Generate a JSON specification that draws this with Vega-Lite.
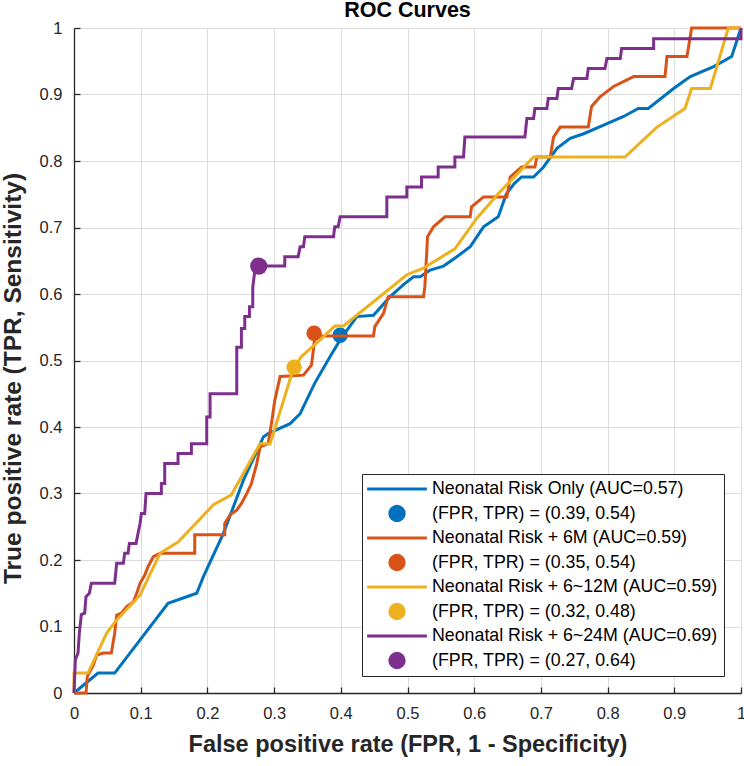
{
  "$schema": "https://vega.github.io/schema/vega-lite/v6.json",
  "width": 667,
  "height": 665,
  "autosize": {"type": "none"},
  "padding": {"left": 74, "top": 28, "right": 3, "bottom": 73},
  "background": "white",
  "title": {"text": "ROC Curves", "fontSize": 21.5, "font": "Liberation Sans", "fontWeight": "bold", "color": "#000000", "offset": -1, "anchor": "middle"},
  "config": {
    "view": {"stroke": null},
    "axis": {
      "labelFont": "Liberation Sans", "labelFontSize": 16.5, "labelColor": "#262626",
      "titleFont": "Liberation Sans", "titleFontWeight": "bold", "titleColor": "#262626",
      "gridColor": "#dcdcdc", "gridWidth": 1, "gridOpacity": 1,
      "domainColor": "#262626", "domainWidth": 1.3,
      "ticks": true, "tickSize": -6, "tickColor": "#262626", "tickWidth": 1.3
    },
    "legend": {
      "orient": "bottom-right", "offset": 17,
      "strokeColor": "#262626", "fillColor": "white", "padding": 6, "cornerRadius": 0,
      "labelFont": "Liberation Sans", "labelFontSize": 17.8, "labelColor": "#000000", "labelLimit": 500,
      "symbolSize": 300, "symbolStrokeWidth": 0, "rowPadding": 6.5,
      "symbolOffset": 20, "labelOffset": 26
    }
  },
  "datasets": {
    "lines": [
      {"s": "Neonatal Risk Only (AUC=0.57)", "i": 0, "fpr": 0, "tpr": 0},
      {"s": "Neonatal Risk Only (AUC=0.57)", "i": 1, "fpr": 0.036, "tpr": 0.03},
      {"s": "Neonatal Risk Only (AUC=0.57)", "i": 2, "fpr": 0.061, "tpr": 0.03},
      {"s": "Neonatal Risk Only (AUC=0.57)", "i": 3, "fpr": 0.141, "tpr": 0.135},
      {"s": "Neonatal Risk Only (AUC=0.57)", "i": 4, "fpr": 0.184, "tpr": 0.15},
      {"s": "Neonatal Risk Only (AUC=0.57)", "i": 5, "fpr": 0.194, "tpr": 0.175},
      {"s": "Neonatal Risk Only (AUC=0.57)", "i": 6, "fpr": 0.224, "tpr": 0.24},
      {"s": "Neonatal Risk Only (AUC=0.57)", "i": 7, "fpr": 0.254, "tpr": 0.32},
      {"s": "Neonatal Risk Only (AUC=0.57)", "i": 8, "fpr": 0.284, "tpr": 0.385},
      {"s": "Neonatal Risk Only (AUC=0.57)", "i": 9, "fpr": 0.291, "tpr": 0.39},
      {"s": "Neonatal Risk Only (AUC=0.57)", "i": 10, "fpr": 0.324, "tpr": 0.405},
      {"s": "Neonatal Risk Only (AUC=0.57)", "i": 11, "fpr": 0.339, "tpr": 0.42},
      {"s": "Neonatal Risk Only (AUC=0.57)", "i": 12, "fpr": 0.361, "tpr": 0.466},
      {"s": "Neonatal Risk Only (AUC=0.57)", "i": 13, "fpr": 0.384, "tpr": 0.506},
      {"s": "Neonatal Risk Only (AUC=0.57)", "i": 14, "fpr": 0.399, "tpr": 0.531},
      {"s": "Neonatal Risk Only (AUC=0.57)", "i": 15, "fpr": 0.411, "tpr": 0.548},
      {"s": "Neonatal Risk Only (AUC=0.57)", "i": 16, "fpr": 0.424, "tpr": 0.566},
      {"s": "Neonatal Risk Only (AUC=0.57)", "i": 17, "fpr": 0.449, "tpr": 0.568},
      {"s": "Neonatal Risk Only (AUC=0.57)", "i": 18, "fpr": 0.474, "tpr": 0.596},
      {"s": "Neonatal Risk Only (AUC=0.57)", "i": 19, "fpr": 0.494, "tpr": 0.614},
      {"s": "Neonatal Risk Only (AUC=0.57)", "i": 20, "fpr": 0.509, "tpr": 0.626},
      {"s": "Neonatal Risk Only (AUC=0.57)", "i": 21, "fpr": 0.519, "tpr": 0.626},
      {"s": "Neonatal Risk Only (AUC=0.57)", "i": 22, "fpr": 0.534, "tpr": 0.636},
      {"s": "Neonatal Risk Only (AUC=0.57)", "i": 23, "fpr": 0.554, "tpr": 0.642},
      {"s": "Neonatal Risk Only (AUC=0.57)", "i": 24, "fpr": 0.574, "tpr": 0.656},
      {"s": "Neonatal Risk Only (AUC=0.57)", "i": 25, "fpr": 0.594, "tpr": 0.671},
      {"s": "Neonatal Risk Only (AUC=0.57)", "i": 26, "fpr": 0.614, "tpr": 0.701},
      {"s": "Neonatal Risk Only (AUC=0.57)", "i": 27, "fpr": 0.636, "tpr": 0.716},
      {"s": "Neonatal Risk Only (AUC=0.57)", "i": 28, "fpr": 0.648, "tpr": 0.75},
      {"s": "Neonatal Risk Only (AUC=0.57)", "i": 29, "fpr": 0.66, "tpr": 0.766},
      {"s": "Neonatal Risk Only (AUC=0.57)", "i": 30, "fpr": 0.671, "tpr": 0.776},
      {"s": "Neonatal Risk Only (AUC=0.57)", "i": 31, "fpr": 0.689, "tpr": 0.776},
      {"s": "Neonatal Risk Only (AUC=0.57)", "i": 32, "fpr": 0.704, "tpr": 0.791},
      {"s": "Neonatal Risk Only (AUC=0.57)", "i": 33, "fpr": 0.724, "tpr": 0.819},
      {"s": "Neonatal Risk Only (AUC=0.57)", "i": 34, "fpr": 0.744, "tpr": 0.834},
      {"s": "Neonatal Risk Only (AUC=0.57)", "i": 35, "fpr": 0.764, "tpr": 0.841},
      {"s": "Neonatal Risk Only (AUC=0.57)", "i": 36, "fpr": 0.794, "tpr": 0.854},
      {"s": "Neonatal Risk Only (AUC=0.57)", "i": 37, "fpr": 0.824, "tpr": 0.867},
      {"s": "Neonatal Risk Only (AUC=0.57)", "i": 38, "fpr": 0.846, "tpr": 0.879},
      {"s": "Neonatal Risk Only (AUC=0.57)", "i": 39, "fpr": 0.861, "tpr": 0.879},
      {"s": "Neonatal Risk Only (AUC=0.57)", "i": 40, "fpr": 0.899, "tpr": 0.909},
      {"s": "Neonatal Risk Only (AUC=0.57)", "i": 41, "fpr": 0.924, "tpr": 0.927},
      {"s": "Neonatal Risk Only (AUC=0.57)", "i": 42, "fpr": 0.959, "tpr": 0.942},
      {"s": "Neonatal Risk Only (AUC=0.57)", "i": 43, "fpr": 0.986, "tpr": 0.957},
      {"s": "Neonatal Risk Only (AUC=0.57)", "i": 44, "fpr": 1, "tpr": 1},

      {"s": "Neonatal Risk + 6M (AUC=0.59)", "i": 0, "fpr": 0, "tpr": 0},
      {"s": "Neonatal Risk + 6M (AUC=0.59)", "i": 1, "fpr": 0.018, "tpr": 0},
      {"s": "Neonatal Risk + 6M (AUC=0.59)", "i": 2, "fpr": 0.02, "tpr": 0.025},
      {"s": "Neonatal Risk + 6M (AUC=0.59)", "i": 3, "fpr": 0.029, "tpr": 0.042},
      {"s": "Neonatal Risk + 6M (AUC=0.59)", "i": 4, "fpr": 0.034, "tpr": 0.057},
      {"s": "Neonatal Risk + 6M (AUC=0.59)", "i": 5, "fpr": 0.044, "tpr": 0.06},
      {"s": "Neonatal Risk + 6M (AUC=0.59)", "i": 6, "fpr": 0.056, "tpr": 0.06},
      {"s": "Neonatal Risk + 6M (AUC=0.59)", "i": 7, "fpr": 0.061, "tpr": 0.09},
      {"s": "Neonatal Risk + 6M (AUC=0.59)", "i": 8, "fpr": 0.064, "tpr": 0.117},
      {"s": "Neonatal Risk + 6M (AUC=0.59)", "i": 9, "fpr": 0.071, "tpr": 0.12},
      {"s": "Neonatal Risk + 6M (AUC=0.59)", "i": 10, "fpr": 0.079, "tpr": 0.13},
      {"s": "Neonatal Risk + 6M (AUC=0.59)", "i": 11, "fpr": 0.089, "tpr": 0.137},
      {"s": "Neonatal Risk + 6M (AUC=0.59)", "i": 12, "fpr": 0.094, "tpr": 0.15},
      {"s": "Neonatal Risk + 6M (AUC=0.59)", "i": 13, "fpr": 0.099, "tpr": 0.165},
      {"s": "Neonatal Risk + 6M (AUC=0.59)", "i": 14, "fpr": 0.106, "tpr": 0.177},
      {"s": "Neonatal Risk + 6M (AUC=0.59)", "i": 15, "fpr": 0.111, "tpr": 0.19},
      {"s": "Neonatal Risk + 6M (AUC=0.59)", "i": 16, "fpr": 0.119, "tpr": 0.205},
      {"s": "Neonatal Risk + 6M (AUC=0.59)", "i": 17, "fpr": 0.129, "tpr": 0.21},
      {"s": "Neonatal Risk + 6M (AUC=0.59)", "i": 18, "fpr": 0.181, "tpr": 0.21},
      {"s": "Neonatal Risk + 6M (AUC=0.59)", "i": 19, "fpr": 0.181, "tpr": 0.238},
      {"s": "Neonatal Risk + 6M (AUC=0.59)", "i": 20, "fpr": 0.226, "tpr": 0.238},
      {"s": "Neonatal Risk + 6M (AUC=0.59)", "i": 21, "fpr": 0.226, "tpr": 0.255},
      {"s": "Neonatal Risk + 6M (AUC=0.59)", "i": 22, "fpr": 0.234, "tpr": 0.268},
      {"s": "Neonatal Risk + 6M (AUC=0.59)", "i": 23, "fpr": 0.244, "tpr": 0.275},
      {"s": "Neonatal Risk + 6M (AUC=0.59)", "i": 24, "fpr": 0.251, "tpr": 0.285},
      {"s": "Neonatal Risk + 6M (AUC=0.59)", "i": 25, "fpr": 0.259, "tpr": 0.3},
      {"s": "Neonatal Risk + 6M (AUC=0.59)", "i": 26, "fpr": 0.266, "tpr": 0.315},
      {"s": "Neonatal Risk + 6M (AUC=0.59)", "i": 27, "fpr": 0.274, "tpr": 0.345},
      {"s": "Neonatal Risk + 6M (AUC=0.59)", "i": 28, "fpr": 0.279, "tpr": 0.37},
      {"s": "Neonatal Risk + 6M (AUC=0.59)", "i": 29, "fpr": 0.291, "tpr": 0.375},
      {"s": "Neonatal Risk + 6M (AUC=0.59)", "i": 30, "fpr": 0.296, "tpr": 0.405},
      {"s": "Neonatal Risk + 6M (AUC=0.59)", "i": 31, "fpr": 0.301, "tpr": 0.44},
      {"s": "Neonatal Risk + 6M (AUC=0.59)", "i": 32, "fpr": 0.309, "tpr": 0.476},
      {"s": "Neonatal Risk + 6M (AUC=0.59)", "i": 33, "fpr": 0.344, "tpr": 0.478},
      {"s": "Neonatal Risk + 6M (AUC=0.59)", "i": 34, "fpr": 0.356, "tpr": 0.493},
      {"s": "Neonatal Risk + 6M (AUC=0.59)", "i": 35, "fpr": 0.359, "tpr": 0.516},
      {"s": "Neonatal Risk + 6M (AUC=0.59)", "i": 36, "fpr": 0.361, "tpr": 0.537},
      {"s": "Neonatal Risk + 6M (AUC=0.59)", "i": 37, "fpr": 0.449, "tpr": 0.537},
      {"s": "Neonatal Risk + 6M (AUC=0.59)", "i": 38, "fpr": 0.451, "tpr": 0.551},
      {"s": "Neonatal Risk + 6M (AUC=0.59)", "i": 39, "fpr": 0.464, "tpr": 0.571},
      {"s": "Neonatal Risk + 6M (AUC=0.59)", "i": 40, "fpr": 0.471, "tpr": 0.596},
      {"s": "Neonatal Risk + 6M (AUC=0.59)", "i": 41, "fpr": 0.524, "tpr": 0.596},
      {"s": "Neonatal Risk + 6M (AUC=0.59)", "i": 42, "fpr": 0.526, "tpr": 0.611},
      {"s": "Neonatal Risk + 6M (AUC=0.59)", "i": 43, "fpr": 0.529, "tpr": 0.666},
      {"s": "Neonatal Risk + 6M (AUC=0.59)", "i": 44, "fpr": 0.53, "tpr": 0.686},
      {"s": "Neonatal Risk + 6M (AUC=0.59)", "i": 45, "fpr": 0.539, "tpr": 0.701},
      {"s": "Neonatal Risk + 6M (AUC=0.59)", "i": 46, "fpr": 0.556, "tpr": 0.716},
      {"s": "Neonatal Risk + 6M (AUC=0.59)", "i": 47, "fpr": 0.594, "tpr": 0.716},
      {"s": "Neonatal Risk + 6M (AUC=0.59)", "i": 48, "fpr": 0.596, "tpr": 0.731},
      {"s": "Neonatal Risk + 6M (AUC=0.59)", "i": 49, "fpr": 0.614, "tpr": 0.746},
      {"s": "Neonatal Risk + 6M (AUC=0.59)", "i": 50, "fpr": 0.649, "tpr": 0.746},
      {"s": "Neonatal Risk + 6M (AUC=0.59)", "i": 51, "fpr": 0.654, "tpr": 0.776},
      {"s": "Neonatal Risk + 6M (AUC=0.59)", "i": 52, "fpr": 0.671, "tpr": 0.791},
      {"s": "Neonatal Risk + 6M (AUC=0.59)", "i": 53, "fpr": 0.691, "tpr": 0.791},
      {"s": "Neonatal Risk + 6M (AUC=0.59)", "i": 54, "fpr": 0.694, "tpr": 0.806},
      {"s": "Neonatal Risk + 6M (AUC=0.59)", "i": 55, "fpr": 0.714, "tpr": 0.806},
      {"s": "Neonatal Risk + 6M (AUC=0.59)", "i": 56, "fpr": 0.719, "tpr": 0.836},
      {"s": "Neonatal Risk + 6M (AUC=0.59)", "i": 57, "fpr": 0.729, "tpr": 0.851},
      {"s": "Neonatal Risk + 6M (AUC=0.59)", "i": 58, "fpr": 0.771, "tpr": 0.851},
      {"s": "Neonatal Risk + 6M (AUC=0.59)", "i": 59, "fpr": 0.776, "tpr": 0.882},
      {"s": "Neonatal Risk + 6M (AUC=0.59)", "i": 60, "fpr": 0.789, "tpr": 0.897},
      {"s": "Neonatal Risk + 6M (AUC=0.59)", "i": 61, "fpr": 0.809, "tpr": 0.912},
      {"s": "Neonatal Risk + 6M (AUC=0.59)", "i": 62, "fpr": 0.839, "tpr": 0.927},
      {"s": "Neonatal Risk + 6M (AUC=0.59)", "i": 63, "fpr": 0.886, "tpr": 0.927},
      {"s": "Neonatal Risk + 6M (AUC=0.59)", "i": 64, "fpr": 0.889, "tpr": 0.957},
      {"s": "Neonatal Risk + 6M (AUC=0.59)", "i": 65, "fpr": 0.919, "tpr": 0.957},
      {"s": "Neonatal Risk + 6M (AUC=0.59)", "i": 66, "fpr": 0.926, "tpr": 1},
      {"s": "Neonatal Risk + 6M (AUC=0.59)", "i": 67, "fpr": 1, "tpr": 1},

      {"s": "Neonatal Risk + 6~12M (AUC=0.59)", "i": 0, "fpr": 0, "tpr": 0},
      {"s": "Neonatal Risk + 6~12M (AUC=0.59)", "i": 1, "fpr": 0, "tpr": 0.03},
      {"s": "Neonatal Risk + 6~12M (AUC=0.59)", "i": 2, "fpr": 0.021, "tpr": 0.03},
      {"s": "Neonatal Risk + 6~12M (AUC=0.59)", "i": 3, "fpr": 0.049, "tpr": 0.09},
      {"s": "Neonatal Risk + 6~12M (AUC=0.59)", "i": 4, "fpr": 0.064, "tpr": 0.11},
      {"s": "Neonatal Risk + 6~12M (AUC=0.59)", "i": 5, "fpr": 0.099, "tpr": 0.147},
      {"s": "Neonatal Risk + 6~12M (AUC=0.59)", "i": 6, "fpr": 0.129, "tpr": 0.21},
      {"s": "Neonatal Risk + 6~12M (AUC=0.59)", "i": 7, "fpr": 0.156, "tpr": 0.227},
      {"s": "Neonatal Risk + 6~12M (AUC=0.59)", "i": 8, "fpr": 0.209, "tpr": 0.283},
      {"s": "Neonatal Risk + 6~12M (AUC=0.59)", "i": 9, "fpr": 0.236, "tpr": 0.298},
      {"s": "Neonatal Risk + 6~12M (AUC=0.59)", "i": 10, "fpr": 0.279, "tpr": 0.375},
      {"s": "Neonatal Risk + 6~12M (AUC=0.59)", "i": 11, "fpr": 0.294, "tpr": 0.375},
      {"s": "Neonatal Risk + 6~12M (AUC=0.59)", "i": 12, "fpr": 0.329, "tpr": 0.488},
      {"s": "Neonatal Risk + 6~12M (AUC=0.59)", "i": 13, "fpr": 0.341, "tpr": 0.506},
      {"s": "Neonatal Risk + 6~12M (AUC=0.59)", "i": 14, "fpr": 0.369, "tpr": 0.531},
      {"s": "Neonatal Risk + 6~12M (AUC=0.59)", "i": 15, "fpr": 0.391, "tpr": 0.552},
      {"s": "Neonatal Risk + 6~12M (AUC=0.59)", "i": 16, "fpr": 0.404, "tpr": 0.552},
      {"s": "Neonatal Risk + 6~12M (AUC=0.59)", "i": 17, "fpr": 0.499, "tpr": 0.629},
      {"s": "Neonatal Risk + 6~12M (AUC=0.59)", "i": 18, "fpr": 0.524, "tpr": 0.639},
      {"s": "Neonatal Risk + 6~12M (AUC=0.59)", "i": 19, "fpr": 0.571, "tpr": 0.668},
      {"s": "Neonatal Risk + 6~12M (AUC=0.59)", "i": 20, "fpr": 0.604, "tpr": 0.714},
      {"s": "Neonatal Risk + 6~12M (AUC=0.59)", "i": 21, "fpr": 0.639, "tpr": 0.754},
      {"s": "Neonatal Risk + 6~12M (AUC=0.59)", "i": 22, "fpr": 0.689, "tpr": 0.806},
      {"s": "Neonatal Risk + 6~12M (AUC=0.59)", "i": 23, "fpr": 0.826, "tpr": 0.806},
      {"s": "Neonatal Risk + 6~12M (AUC=0.59)", "i": 24, "fpr": 0.874, "tpr": 0.851},
      {"s": "Neonatal Risk + 6~12M (AUC=0.59)", "i": 25, "fpr": 0.916, "tpr": 0.879},
      {"s": "Neonatal Risk + 6~12M (AUC=0.59)", "i": 26, "fpr": 0.926, "tpr": 0.909},
      {"s": "Neonatal Risk + 6~12M (AUC=0.59)", "i": 27, "fpr": 0.954, "tpr": 0.909},
      {"s": "Neonatal Risk + 6~12M (AUC=0.59)", "i": 28, "fpr": 0.981, "tpr": 1},
      {"s": "Neonatal Risk + 6~12M (AUC=0.59)", "i": 29, "fpr": 1, "tpr": 1},

      {"s": "Neonatal Risk + 6~24M (AUC=0.69)", "i": 0, "fpr": 0, "tpr": 0},
      {"s": "Neonatal Risk + 6~24M (AUC=0.69)", "i": 1, "fpr": 0.002, "tpr": 0.05},
      {"s": "Neonatal Risk + 6~24M (AUC=0.69)", "i": 2, "fpr": 0.006, "tpr": 0.06},
      {"s": "Neonatal Risk + 6~24M (AUC=0.69)", "i": 3, "fpr": 0.008, "tpr": 0.09},
      {"s": "Neonatal Risk + 6~24M (AUC=0.69)", "i": 4, "fpr": 0.011, "tpr": 0.118},
      {"s": "Neonatal Risk + 6~24M (AUC=0.69)", "i": 5, "fpr": 0.016, "tpr": 0.12},
      {"s": "Neonatal Risk + 6~24M (AUC=0.69)", "i": 6, "fpr": 0.018, "tpr": 0.145},
      {"s": "Neonatal Risk + 6~24M (AUC=0.69)", "i": 7, "fpr": 0.023, "tpr": 0.15},
      {"s": "Neonatal Risk + 6~24M (AUC=0.69)", "i": 8, "fpr": 0.026, "tpr": 0.165},
      {"s": "Neonatal Risk + 6~24M (AUC=0.69)", "i": 9, "fpr": 0.061, "tpr": 0.165},
      {"s": "Neonatal Risk + 6~24M (AUC=0.69)", "i": 10, "fpr": 0.064, "tpr": 0.195},
      {"s": "Neonatal Risk + 6~24M (AUC=0.69)", "i": 11, "fpr": 0.074, "tpr": 0.195},
      {"s": "Neonatal Risk + 6~24M (AUC=0.69)", "i": 12, "fpr": 0.076, "tpr": 0.21},
      {"s": "Neonatal Risk + 6~24M (AUC=0.69)", "i": 13, "fpr": 0.081, "tpr": 0.21},
      {"s": "Neonatal Risk + 6~24M (AUC=0.69)", "i": 14, "fpr": 0.083, "tpr": 0.225},
      {"s": "Neonatal Risk + 6~24M (AUC=0.69)", "i": 15, "fpr": 0.093, "tpr": 0.225},
      {"s": "Neonatal Risk + 6~24M (AUC=0.69)", "i": 16, "fpr": 0.096, "tpr": 0.24},
      {"s": "Neonatal Risk + 6~24M (AUC=0.69)", "i": 17, "fpr": 0.099, "tpr": 0.255},
      {"s": "Neonatal Risk + 6~24M (AUC=0.69)", "i": 18, "fpr": 0.101, "tpr": 0.27},
      {"s": "Neonatal Risk + 6~24M (AUC=0.69)", "i": 19, "fpr": 0.106, "tpr": 0.27},
      {"s": "Neonatal Risk + 6~24M (AUC=0.69)", "i": 20, "fpr": 0.108, "tpr": 0.3},
      {"s": "Neonatal Risk + 6~24M (AUC=0.69)", "i": 21, "fpr": 0.131, "tpr": 0.3},
      {"s": "Neonatal Risk + 6~24M (AUC=0.69)", "i": 22, "fpr": 0.131, "tpr": 0.315},
      {"s": "Neonatal Risk + 6~24M (AUC=0.69)", "i": 23, "fpr": 0.136, "tpr": 0.315},
      {"s": "Neonatal Risk + 6~24M (AUC=0.69)", "i": 24, "fpr": 0.136, "tpr": 0.345},
      {"s": "Neonatal Risk + 6~24M (AUC=0.69)", "i": 25, "fpr": 0.156, "tpr": 0.345},
      {"s": "Neonatal Risk + 6~24M (AUC=0.69)", "i": 26, "fpr": 0.156, "tpr": 0.36},
      {"s": "Neonatal Risk + 6~24M (AUC=0.69)", "i": 27, "fpr": 0.176, "tpr": 0.36},
      {"s": "Neonatal Risk + 6~24M (AUC=0.69)", "i": 28, "fpr": 0.176, "tpr": 0.375},
      {"s": "Neonatal Risk + 6~24M (AUC=0.69)", "i": 29, "fpr": 0.199, "tpr": 0.375},
      {"s": "Neonatal Risk + 6~24M (AUC=0.69)", "i": 30, "fpr": 0.199, "tpr": 0.415},
      {"s": "Neonatal Risk + 6~24M (AUC=0.69)", "i": 31, "fpr": 0.204, "tpr": 0.415},
      {"s": "Neonatal Risk + 6~24M (AUC=0.69)", "i": 32, "fpr": 0.204, "tpr": 0.45},
      {"s": "Neonatal Risk + 6~24M (AUC=0.69)", "i": 33, "fpr": 0.244, "tpr": 0.45},
      {"s": "Neonatal Risk + 6~24M (AUC=0.69)", "i": 34, "fpr": 0.244, "tpr": 0.52},
      {"s": "Neonatal Risk + 6~24M (AUC=0.69)", "i": 35, "fpr": 0.251, "tpr": 0.52},
      {"s": "Neonatal Risk + 6~24M (AUC=0.69)", "i": 36, "fpr": 0.251, "tpr": 0.548},
      {"s": "Neonatal Risk + 6~24M (AUC=0.69)", "i": 37, "fpr": 0.256, "tpr": 0.548},
      {"s": "Neonatal Risk + 6~24M (AUC=0.69)", "i": 38, "fpr": 0.256, "tpr": 0.566},
      {"s": "Neonatal Risk + 6~24M (AUC=0.69)", "i": 39, "fpr": 0.263, "tpr": 0.566},
      {"s": "Neonatal Risk + 6~24M (AUC=0.69)", "i": 40, "fpr": 0.263, "tpr": 0.581},
      {"s": "Neonatal Risk + 6~24M (AUC=0.69)", "i": 41, "fpr": 0.268, "tpr": 0.581},
      {"s": "Neonatal Risk + 6~24M (AUC=0.69)", "i": 42, "fpr": 0.268, "tpr": 0.61},
      {"s": "Neonatal Risk + 6~24M (AUC=0.69)", "i": 43, "fpr": 0.272, "tpr": 0.642},
      {"s": "Neonatal Risk + 6~24M (AUC=0.69)", "i": 44, "fpr": 0.316, "tpr": 0.642},
      {"s": "Neonatal Risk + 6~24M (AUC=0.69)", "i": 45, "fpr": 0.316, "tpr": 0.656},
      {"s": "Neonatal Risk + 6~24M (AUC=0.69)", "i": 46, "fpr": 0.336, "tpr": 0.656},
      {"s": "Neonatal Risk + 6~24M (AUC=0.69)", "i": 47, "fpr": 0.339, "tpr": 0.671},
      {"s": "Neonatal Risk + 6~24M (AUC=0.69)", "i": 48, "fpr": 0.344, "tpr": 0.671},
      {"s": "Neonatal Risk + 6~24M (AUC=0.69)", "i": 49, "fpr": 0.346, "tpr": 0.686},
      {"s": "Neonatal Risk + 6~24M (AUC=0.69)", "i": 50, "fpr": 0.389, "tpr": 0.686},
      {"s": "Neonatal Risk + 6~24M (AUC=0.69)", "i": 51, "fpr": 0.391, "tpr": 0.701},
      {"s": "Neonatal Risk + 6~24M (AUC=0.69)", "i": 52, "fpr": 0.396, "tpr": 0.701},
      {"s": "Neonatal Risk + 6~24M (AUC=0.69)", "i": 53, "fpr": 0.399, "tpr": 0.716},
      {"s": "Neonatal Risk + 6~24M (AUC=0.69)", "i": 54, "fpr": 0.469, "tpr": 0.716},
      {"s": "Neonatal Risk + 6~24M (AUC=0.69)", "i": 55, "fpr": 0.469, "tpr": 0.746},
      {"s": "Neonatal Risk + 6~24M (AUC=0.69)", "i": 56, "fpr": 0.499, "tpr": 0.746},
      {"s": "Neonatal Risk + 6~24M (AUC=0.69)", "i": 57, "fpr": 0.499, "tpr": 0.761},
      {"s": "Neonatal Risk + 6~24M (AUC=0.69)", "i": 58, "fpr": 0.521, "tpr": 0.761},
      {"s": "Neonatal Risk + 6~24M (AUC=0.69)", "i": 59, "fpr": 0.521, "tpr": 0.776},
      {"s": "Neonatal Risk + 6~24M (AUC=0.69)", "i": 60, "fpr": 0.546, "tpr": 0.776},
      {"s": "Neonatal Risk + 6~24M (AUC=0.69)", "i": 61, "fpr": 0.546, "tpr": 0.791},
      {"s": "Neonatal Risk + 6~24M (AUC=0.69)", "i": 62, "fpr": 0.571, "tpr": 0.791},
      {"s": "Neonatal Risk + 6~24M (AUC=0.69)", "i": 63, "fpr": 0.571, "tpr": 0.806},
      {"s": "Neonatal Risk + 6~24M (AUC=0.69)", "i": 64, "fpr": 0.584, "tpr": 0.806},
      {"s": "Neonatal Risk + 6~24M (AUC=0.69)", "i": 65, "fpr": 0.586, "tpr": 0.836},
      {"s": "Neonatal Risk + 6~24M (AUC=0.69)", "i": 66, "fpr": 0.676, "tpr": 0.836},
      {"s": "Neonatal Risk + 6~24M (AUC=0.69)", "i": 67, "fpr": 0.679, "tpr": 0.864},
      {"s": "Neonatal Risk + 6~24M (AUC=0.69)", "i": 68, "fpr": 0.689, "tpr": 0.864},
      {"s": "Neonatal Risk + 6~24M (AUC=0.69)", "i": 69, "fpr": 0.691, "tpr": 0.879},
      {"s": "Neonatal Risk + 6~24M (AUC=0.69)", "i": 70, "fpr": 0.709, "tpr": 0.879},
      {"s": "Neonatal Risk + 6~24M (AUC=0.69)", "i": 71, "fpr": 0.711, "tpr": 0.894},
      {"s": "Neonatal Risk + 6~24M (AUC=0.69)", "i": 72, "fpr": 0.724, "tpr": 0.894},
      {"s": "Neonatal Risk + 6~24M (AUC=0.69)", "i": 73, "fpr": 0.726, "tpr": 0.909},
      {"s": "Neonatal Risk + 6~24M (AUC=0.69)", "i": 74, "fpr": 0.746, "tpr": 0.909},
      {"s": "Neonatal Risk + 6~24M (AUC=0.69)", "i": 75, "fpr": 0.749, "tpr": 0.924},
      {"s": "Neonatal Risk + 6~24M (AUC=0.69)", "i": 76, "fpr": 0.769, "tpr": 0.924},
      {"s": "Neonatal Risk + 6~24M (AUC=0.69)", "i": 77, "fpr": 0.771, "tpr": 0.939},
      {"s": "Neonatal Risk + 6~24M (AUC=0.69)", "i": 78, "fpr": 0.796, "tpr": 0.939},
      {"s": "Neonatal Risk + 6~24M (AUC=0.69)", "i": 79, "fpr": 0.799, "tpr": 0.954},
      {"s": "Neonatal Risk + 6~24M (AUC=0.69)", "i": 80, "fpr": 0.819, "tpr": 0.954},
      {"s": "Neonatal Risk + 6~24M (AUC=0.69)", "i": 81, "fpr": 0.821, "tpr": 0.969},
      {"s": "Neonatal Risk + 6~24M (AUC=0.69)", "i": 82, "fpr": 0.869, "tpr": 0.969},
      {"s": "Neonatal Risk + 6~24M (AUC=0.69)", "i": 83, "fpr": 0.869, "tpr": 0.984},
      {"s": "Neonatal Risk + 6~24M (AUC=0.69)", "i": 84, "fpr": 1, "tpr": 0.984},
      {"s": "Neonatal Risk + 6~24M (AUC=0.69)", "i": 85, "fpr": 1, "tpr": 1}
    ],
    "pts": [
      {"s": "(FPR, TPR) = (0.39, 0.54)", "fpr": 0.399, "tpr": 0.538},
      {"s": "(FPR, TPR) = (0.35, 0.54)", "fpr": 0.36, "tpr": 0.541},
      {"s": "(FPR, TPR) = (0.32, 0.48)", "fpr": 0.33, "tpr": 0.49},
      {"s": "(FPR, TPR) = (0.27, 0.64)", "fpr": 0.277, "tpr": 0.642}
    ]
  },
  "encoding": {
    "x": {
      "field": "fpr", "type": "quantitative",
      "scale": {"domain": [0, 1], "nice": false, "zero": false},
      "axis": {"values": [0, 0.1, 0.2, 0.3, 0.4, 0.5, 0.6, 0.7, 0.8, 0.9, 1], "format": "~g", "labelPadding": 18, "titlePadding": 11, "titleFontSize": 23.5, "labelFlush": false},
      "title": "False positive rate (FPR, 1 - Specificity)"
    },
    "y": {
      "field": "tpr", "type": "quantitative",
      "scale": {"domain": [0, 1], "nice": false, "zero": false},
      "axis": {"values": [0, 0.1, 0.2, 0.3, 0.4, 0.5, 0.6, 0.7, 0.8, 0.9, 1], "format": "~g", "labelPadding": 18, "titlePadding": 14, "titleFontSize": 24.5, "titleY": 350, "labelFlush": false},
      "title": "True positive rate (TPR, Sensitivity)"
    },
    "color": {
      "field": "s", "type": "nominal",
      "scale": {
        "domain": [
          "Neonatal Risk Only (AUC=0.57)", "(FPR, TPR) = (0.39, 0.54)",
          "Neonatal Risk + 6M (AUC=0.59)", "(FPR, TPR) = (0.35, 0.54)",
          "Neonatal Risk + 6~12M (AUC=0.59)", "(FPR, TPR) = (0.32, 0.48)",
          "Neonatal Risk + 6~24M (AUC=0.69)", "(FPR, TPR) = (0.27, 0.64)"
        ],
        "range": ["#0072BD", "#0072BD", "#D95319", "#D95319", "#EDB120", "#EDB120", "#7E2F8E", "#7E2F8E"]
      },
      "legend": {"title": null}
    }
  },
  "layer": [
    {"data": {"name": "lines"}, "transform": [{"filter": "datum.s == 'Neonatal Risk Only (AUC=0.57)'"}], "mark": {"type": "line", "strokeWidth": 3}, "encoding": {"order": {"field": "i", "type": "quantitative"}}},
    {"data": {"name": "pts"}, "transform": [{"filter": "datum.s == '(FPR, TPR) = (0.39, 0.54)'"}], "mark": {"type": "point", "filled": true, "opacity": 1, "size": 240},
     "encoding": {"shape": {"field": "s", "type": "nominal", "legend": {"title": null}, "scale": {"domain": ["Neonatal Risk Only (AUC=0.57)", "(FPR, TPR) = (0.39, 0.54)", "Neonatal Risk + 6M (AUC=0.59)", "(FPR, TPR) = (0.35, 0.54)", "Neonatal Risk + 6~12M (AUC=0.59)", "(FPR, TPR) = (0.32, 0.48)", "Neonatal Risk + 6~24M (AUC=0.69)", "(FPR, TPR) = (0.27, 0.64)"], "range": ["M-3.45,-0.173H3.45V0.173H-3.45Z", "circle", "M-3.45,-0.173H3.45V0.173H-3.45Z", "circle", "M-3.45,-0.173H3.45V0.173H-3.45Z", "circle", "M-3.45,-0.173H3.45V0.173H-3.45Z", "circle"]}}}},
    {"data": {"name": "lines"}, "transform": [{"filter": "datum.s == 'Neonatal Risk + 6M (AUC=0.59)'"}], "mark": {"type": "line", "strokeWidth": 3}, "encoding": {"order": {"field": "i", "type": "quantitative"}}},
    {"data": {"name": "pts"}, "transform": [{"filter": "datum.s == '(FPR, TPR) = (0.35, 0.54)'"}], "mark": {"type": "point", "filled": true, "opacity": 1, "size": 240},
     "encoding": {"shape": {"field": "s", "type": "nominal", "legend": {"title": null}, "scale": {"domain": ["Neonatal Risk Only (AUC=0.57)", "(FPR, TPR) = (0.39, 0.54)", "Neonatal Risk + 6M (AUC=0.59)", "(FPR, TPR) = (0.35, 0.54)", "Neonatal Risk + 6~12M (AUC=0.59)", "(FPR, TPR) = (0.32, 0.48)", "Neonatal Risk + 6~24M (AUC=0.69)", "(FPR, TPR) = (0.27, 0.64)"], "range": ["M-3.45,-0.173H3.45V0.173H-3.45Z", "circle", "M-3.45,-0.173H3.45V0.173H-3.45Z", "circle", "M-3.45,-0.173H3.45V0.173H-3.45Z", "circle", "M-3.45,-0.173H3.45V0.173H-3.45Z", "circle"]}}}},
    {"data": {"name": "lines"}, "transform": [{"filter": "datum.s == 'Neonatal Risk + 6~12M (AUC=0.59)'"}], "mark": {"type": "line", "strokeWidth": 3}, "encoding": {"order": {"field": "i", "type": "quantitative"}}},
    {"data": {"name": "pts"}, "transform": [{"filter": "datum.s == '(FPR, TPR) = (0.32, 0.48)'"}], "mark": {"type": "point", "filled": true, "opacity": 1, "size": 240},
     "encoding": {"shape": {"field": "s", "type": "nominal", "legend": {"title": null}, "scale": {"domain": ["Neonatal Risk Only (AUC=0.57)", "(FPR, TPR) = (0.39, 0.54)", "Neonatal Risk + 6M (AUC=0.59)", "(FPR, TPR) = (0.35, 0.54)", "Neonatal Risk + 6~12M (AUC=0.59)", "(FPR, TPR) = (0.32, 0.48)", "Neonatal Risk + 6~24M (AUC=0.69)", "(FPR, TPR) = (0.27, 0.64)"], "range": ["M-3.45,-0.173H3.45V0.173H-3.45Z", "circle", "M-3.45,-0.173H3.45V0.173H-3.45Z", "circle", "M-3.45,-0.173H3.45V0.173H-3.45Z", "circle", "M-3.45,-0.173H3.45V0.173H-3.45Z", "circle"]}}}},
    {"data": {"name": "lines"}, "transform": [{"filter": "datum.s == 'Neonatal Risk + 6~24M (AUC=0.69)'"}], "mark": {"type": "line", "strokeWidth": 3}, "encoding": {"order": {"field": "i", "type": "quantitative"}}},
    {"data": {"name": "pts"}, "transform": [{"filter": "datum.s == '(FPR, TPR) = (0.27, 0.64)'"}], "mark": {"type": "point", "filled": true, "opacity": 1, "size": 300},
     "encoding": {"shape": {"field": "s", "type": "nominal", "legend": {"title": null}, "scale": {"domain": ["Neonatal Risk Only (AUC=0.57)", "(FPR, TPR) = (0.39, 0.54)", "Neonatal Risk + 6M (AUC=0.59)", "(FPR, TPR) = (0.35, 0.54)", "Neonatal Risk + 6~12M (AUC=0.59)", "(FPR, TPR) = (0.32, 0.48)", "Neonatal Risk + 6~24M (AUC=0.69)", "(FPR, TPR) = (0.27, 0.64)"], "range": ["M-3.45,-0.173H3.45V0.173H-3.45Z", "circle", "M-3.45,-0.173H3.45V0.173H-3.45Z", "circle", "M-3.45,-0.173H3.45V0.173H-3.45Z", "circle", "M-3.45,-0.173H3.45V0.173H-3.45Z", "circle"]}}}}
  ]
}
